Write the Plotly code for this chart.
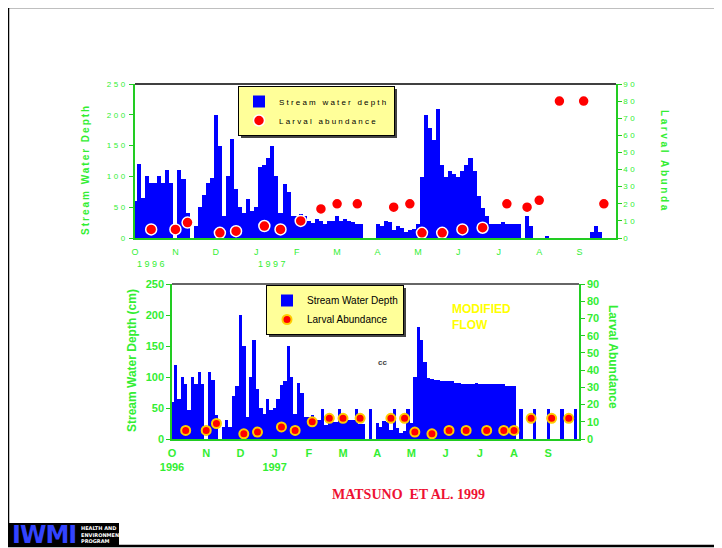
import plotly.graph_objects as go

# ---------------- data ----------------
# samples every ~3 days, Oct 1996 - Sep 1997 (10 samples per month)
month_labels = ["O", "N", "D", "J", "F", "M", "A", "M", "J", "J", "A", "S"]
samples_per_month = 10
year_labels = ["1996", "1997"]
year_month_pos = [0, 3]

top_depth = [60, 120, 65, 100, 90, 90, 100, 90, 110, 90,
             0, 110, 95, 40, 0, 20, 50, 70, 90, 98,
             200, 150, 35, 100, 160, 80, 50, 40, 64, 44,
             50, 116, 118, 130, 150, 100, 40, 88, 75, 35,
             35, 39, 35, 27, 25, 31, 28, 22, 27, 28,
             35, 28, 31, 27, 26, 23, 23, 0, 0, 0,
             23, 20, 28, 26, 13, 20, 17, 9, 13, 15,
             23, 99, 200, 179, 159, 210, 119, 99, 109, 104,
             99, 109, 119, 130, 109, 69, 49, 35, 23, 22,
             23, 26, 23, 23, 22, 23, 0, 35, 20, 0,
             0, 0, 4, 0, 0, 0, 0, 0, 0, 0,
             0, 0, 0, 9, 20, 9, 0, 0, 0, 0]

bottom_depth = [60, 120, 65, 100, 89, 46, 100, 89, 108, 89,
                0, 108, 95, 38, 0, 20, 30, 20, 69, 86,
                200, 150, 35, 100, 160, 80, 50, 40, 65, 47,
                50, 65, 87, 94, 150, 100, 40, 90, 75, 35,
                35, 38, 31, 31, 48, 23, 30, 28, 28, 48,
                31, 31, 30, 30, 48, 25, 25, 0, 48, 0,
                26, 20, 29, 27, 14, 48, 17, 9, 13, 48,
                26, 100, 181, 160, 124, 99, 97, 95, 95, 94,
                94, 94, 94, 91, 91, 89, 89, 89, 89, 90,
                89, 89, 89, 89, 89, 89, 89, 89, 86, 86,
                86, 0, 48, 0, 0, 0, 48, 0, 0, 0,
                48, 0, 0, 0, 48, 0, 0, 0, 48, 0]

abund_sample = [4, 10, 13, 21, 25, 32, 36, 41, 46, 50, 55, 64,
                68, 71, 76, 81, 86, 92, 97, 100, 105, 111, 116]
top_abund = [5, 5, 9, 3, 4, 7, 5, 10, 17, 20, 20, 18,
             20, 3, 3, 5, 6, 20, 18, 22, 80, 80, 20]
bottom_abund = [5, 5, 9, 3, 4, 7, 5, 10, 12, 12, 12, 12,
                12, 4, 3, 5, 5, 5, 5, 5, 12, 12, 12]

depth_ticks = [0, 50, 100, 150, 200, 250]
abund_ticks = [0, 10, 20, 30, 40, 50, 60, 70, 80, 90]

# ---------------- style ----------------
OFF = 8                      # page body margin of the html page
W, H = 722 - OFF, 548 - OFF  # figure size
GREEN_TXT = "#33ee33"
GREEN_LINE = "#22cc22"
BLUE = "#0000ff"
RED = "#ff0000"
SANS = "Liberation Sans, Arial, sans-serif"


def sp(txt, px):
    return '<span style="letter-spacing:%spx">%s</span>' % (px, txt)


def px_x(v):
    return (v - OFF) / W


def px_y(v):
    return 1 - (v - OFF) / H


n = len(top_depth)
samples = list(range(n))
month_pos = [i * samples_per_month for i in range(len(month_labels))]

fig = go.Figure()

fig.add_trace(go.Bar(x=samples, y=top_depth, width=1, marker=dict(color=BLUE, line=dict(width=0)),
                     name=sp("Stream water depth", 2.2), xaxis="x", yaxis="y", legend="legend"))
fig.add_trace(go.Scatter(x=abund_sample, y=top_abund, mode="markers",
                         marker=dict(color=RED, size=11, line=dict(color="white", width=1.5)),
                         name=sp("Larval abundance", 2.2), xaxis="x", yaxis="y2", legend="legend"))
fig.add_trace(go.Bar(x=samples, y=bottom_depth, width=1, marker=dict(color=BLUE, line=dict(width=0)),
                     name="Stream Water Depth", xaxis="x2", yaxis="y3", legend="legend2"))
fig.add_trace(go.Scatter(x=abund_sample, y=bottom_abund, mode="markers",
                         marker=dict(color=RED, size=9, line=dict(color="#ffcc00", width=2)),
                         name="Larval Abundance", xaxis="x2", yaxis="y4", legend="legend2"))

axis_common = dict(showgrid=False, zeroline=False, showline=True, linecolor=GREEN_LINE, linewidth=1.5,
                   automargin=False)

fig.update_layout(
    width=W, height=H, margin=dict(l=0, r=0, t=0, b=0, autoexpand=False),
    paper_bgcolor="white", plot_bgcolor="white",
    bargap=0, showlegend=True,
    xaxis=dict(domain=[px_x(135), px_x(616)], anchor="y", range=[0, 119],
               tickvals=month_pos, ticktext=month_labels, ticks="",
               tickfont=dict(family=SANS, size=9, color=GREEN_TXT), ticklabelstandoff=4,
               **axis_common),
    yaxis=dict(domain=[px_y(238), px_y(84)], anchor="x", range=[0, 250],
               tickvals=depth_ticks, ticktext=[sp(str(t), 2.5) for t in depth_ticks],
               ticks="outside", ticklen=4, tickcolor=GREEN_LINE,
               tickfont=dict(family=SANS, size=8, color=GREEN_TXT), **axis_common),
    yaxis2=dict(overlaying="y", side="right", anchor="x", range=[0, 90],
                tickvals=abund_ticks, ticktext=[sp(str(t), 2.5) for t in abund_ticks],
                ticks="outside", ticklen=4, tickcolor=GREEN_LINE,
                tickfont=dict(family=SANS, size=8, color=GREEN_TXT), **axis_common),
    xaxis2=dict(domain=[px_x(172), px_x(579)], anchor="y3", range=[0, 119],
                tickvals=month_pos,
                ticktext=[m + ("<br>" + year_labels[year_month_pos.index(i)] if i in year_month_pos else "")
                          for i, m in enumerate(month_labels)],
                ticks="", tickfont=dict(family=SANS, size=11, color=GREEN_TXT, weight="bold"),
                ticklabelstandoff=3, **axis_common),
    yaxis3=dict(domain=[px_y(439), px_y(284)], anchor="x2", range=[0, 250],
                tickvals=depth_ticks, ticks="outside", ticklen=4, tickcolor=GREEN_LINE,
                tickfont=dict(family=SANS, size=11, color=GREEN_TXT, weight="bold"), **axis_common),
    yaxis4=dict(overlaying="y3", side="right", anchor="x2", range=[0, 90],
                tickvals=abund_ticks, ticks="outside", ticklen=4, tickcolor=GREEN_LINE,
                tickfont=dict(family=SANS, size=11, color=GREEN_TXT, weight="bold"), **axis_common),
    legend=dict(x=px_x(238), y=px_y(86), xanchor="left", yanchor="top",
                bgcolor="#ffff99", bordercolor="black", borderwidth=1,
                font=dict(family=SANS, size=8, color="black"), itemwidth=30,
                tracegroupgap=0),
    legend2=dict(x=px_x(266), y=px_y(285), xanchor="left", yanchor="top",
                 bgcolor="#ffff99", bordercolor="black", borderwidth=1,
                 font=dict(family=SANS, size=10, color="black"), itemwidth=30),
)

shapes = [
    # slide border
    dict(type="rect", xref="paper", yref="paper", x0=px_x(8), x1=px_x(720), y0=px_y(546), y1=px_y(7),
         line=dict(color="black", width=2.5), layer="below"),
    # top frame lines of the plots
    dict(type="line", xref="x domain", yref="y domain", x0=0, x1=1, y0=1, y1=1,
         line=dict(color="black", width=1.5)),
    dict(type="line", xref="x2 domain", yref="y3 domain", x0=0, x1=1, y0=1, y1=1,
         line=dict(color="#333333", width=1.5)),
    # legend drop shadows (drawn beneath the legend boxes)
    dict(type="rect", xref="paper", yref="paper", x0=px_x(241), x1=px_x(397), y0=px_y(138), y1=px_y(89),
         fillcolor="#444444", line=dict(width=0)),
    dict(type="rect", xref="paper", yref="paper", x0=px_x(269), x1=px_x(406), y0=px_y(337), y1=px_y(288),
         fillcolor="#444444", line=dict(width=0)),
    # logo block
    dict(type="rect", xref="paper", yref="paper", x0=px_x(9), x1=px_x(119), y0=px_y(546), y1=px_y(523),
         fillcolor="black", line=dict(width=0)),
]
fig.update_layout(shapes=shapes)

C = dict(xref="paper", yref="paper", showarrow=False, xanchor="center", yanchor="middle")
ann = []
# axis titles
ann.append(dict(text="<b>" + sp("Stream Water Depth", 2) + "</b>", x=px_x(85), y=px_y(170),
                textangle=-90, font=dict(family=SANS, size=10, color=GREEN_TXT), **C))
ann.append(dict(text="<b>" + sp("Larval Abunda", 2.6) + "</b>", x=px_x(665), y=px_y(161),
                textangle=90, font=dict(family=SANS, size=10, color=GREEN_TXT), **C))
ann.append(dict(text="<b>Stream Water Depth (cm)</b>", x=px_x(132), y=px_y(361),
                textangle=-90, font=dict(family=SANS, size=12, color=GREEN_TXT), **C))
ann.append(dict(text="<b>Larval Abundance</b>", x=px_x(613), y=px_y(357),
                textangle=90, font=dict(family=SANS, size=12, color=GREEN_TXT), **C))
# year labels for top chart
for yl, mp in zip(year_labels, year_month_pos):
    ann.append(dict(text=sp(yl, 2.5), x=month_pos[mp], xref="x", y=px_y(264), yref="paper",
                    xanchor="left", yanchor="middle", showarrow=False,
                    font=dict(family=SANS, size=9, color=GREEN_TXT)))
# other text
ann.append(dict(text="<b>MODIFIED<br>FLOW</b>", x=px_x(450), y=px_y(300), xref="paper", yref="paper",
                xanchor="left", yanchor="top", align="left", showarrow=False,
                font=dict(family=SANS, size=12, color="#ffff00")))
ann.append(dict(text="<b>cc</b>", x=px_x(382), y=px_y(362),
                font=dict(family=SANS, size=8, color="#444444"), **C))
ann.append(dict(text="<b>MATSUNO\u00a0 ET AL. 1999</b>", x=px_x(408), y=px_y(494),
                font=dict(family="Liberation Serif, Times New Roman, serif", size=14, color="#ee1133"), **C))
ann.append(dict(text="<b>" + sp("IWMI", -1) + "</b>", x=px_x(10), y=px_y(535), xref="paper", yref="paper",
                xanchor="left", yanchor="middle", showarrow=False,
                font=dict(family="DejaVu Sans, sans-serif", size=24, color="#3344ff")))
ann.append(dict(text="<b>HEALTH AND<br>ENVIRONMENT<br>PROGRAM</b>", x=px_x(79), y=px_y(534.5),
                xref="paper", yref="paper", xanchor="left", yanchor="middle", align="left",
                showarrow=False, font=dict(family="DejaVu Sans, sans-serif", size=5, color="white")))
fig.update_layout(annotations=ann)

fig.write_html("out.html")
